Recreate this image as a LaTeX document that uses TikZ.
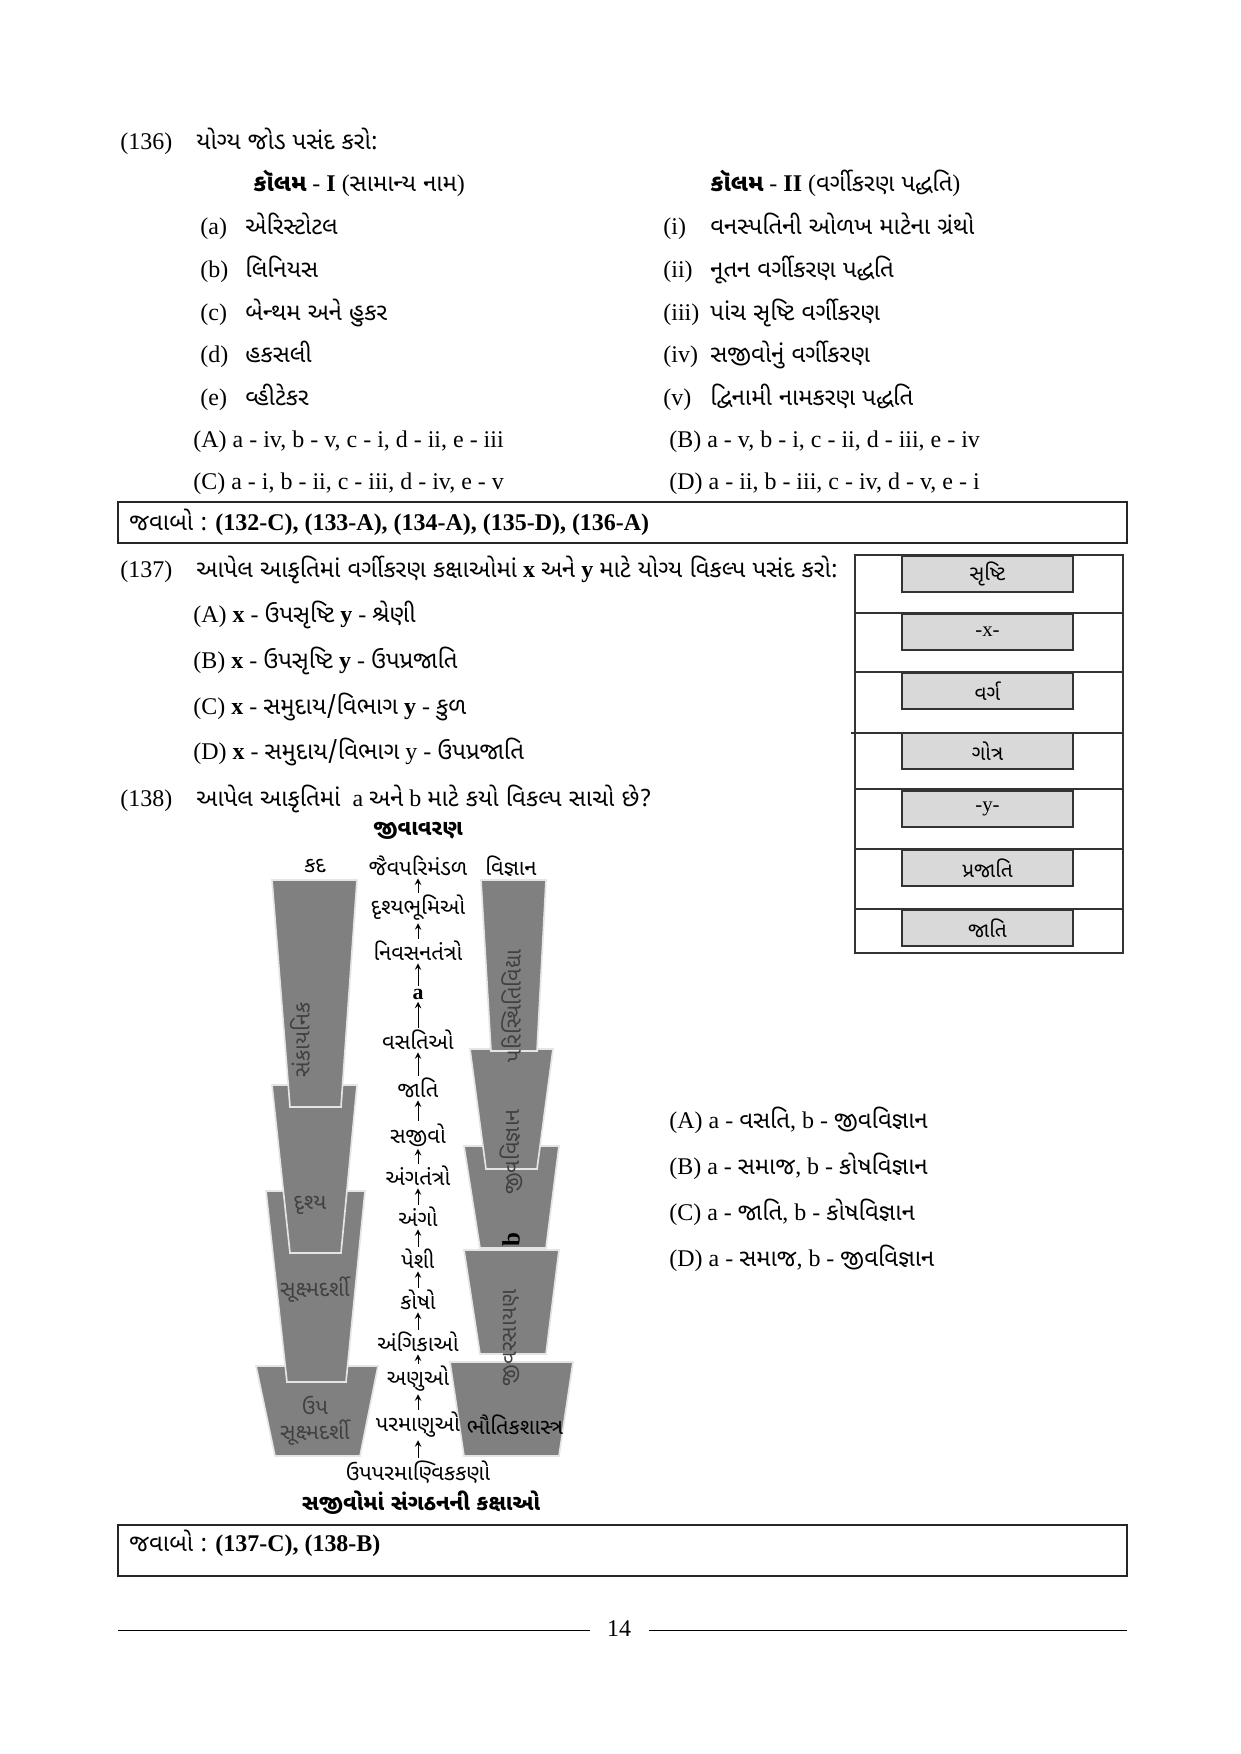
\documentclass[tikz,border=0pt]{standalone}
\usepackage{fontspec}
\setmainfont{Liberation Serif}
\newfontfamily\guj[Script=Gujarati]{Noto Sans Gujarati UI}
\usetikzlibrary{positioning}
\tikzset{
  txt/.style={anchor=west, inner sep=0pt, text height=9pt, text depth=3pt, font=\fontsize{11.5}{14}\selectfont},
  lvl/.style={inner sep=1pt, font=\guj\fontsize{10.5}{12}\selectfont},
  cupfill/.style={fill=black!50, draw=white!90!black, line width=0.8pt},
  cuplbl/.style={inner sep=0pt, text=black!75, font=\guj\fontsize{10.5}{12}\selectfont},
  rankbox/.style={draw=black!80, line width=1pt, fill=black!15, minimum width=82pt, minimum height=17pt, inner sep=0pt, font=\guj\fontsize{10}{12}\selectfont},
  ansbox/.style={draw=black!85, line width=0.8pt}
}
\begin{document}
\begin{tikzpicture}[x=0.48pt, y=-0.48pt]
    \useasboundingbox (0,0) rectangle (1241,1754);
    % question 136
    \node[txt] (q136) at (120,143) {(136)\quad {\guj યોગ્ય જોડ પસંદ કરો:}};
    \node[txt] (col1) at (253,185) {{\guj\bfseries કૉલમ} - \textbf{I} ({\guj સામાન્ય નામ})};
    \node[txt] (col2) at (710,185) {{\guj\bfseries કૉલમ} - \textbf{II} ({\guj વર્ગીકરણ પદ્ધતિ})};
    \foreach \k/\name/\y in {a/એરિસ્ટોટલ/228, b/લિનિયસ/271, c/બેન્થમ અને હુકર/314, d/હકસલી/356, e/વ્હીટેકર/399}{
      \node[txt] (l\k) at (200,\y) {(\k)};
      \node[txt] (n\k) at (245,\y) {\guj\name};
    }
    \foreach \k/\name/\y in {i/વનસ્પતિની ઓળખ માટેના ગ્રંથો/228, ii/નૂતન વર્ગીકરણ પદ્ધતિ/271, iii/પાંચ સૃષ્ટિ વર્ગીકરણ/314, iv/સજીવોનું વર્ગીકરણ/356, v/દ્વિનામી નામકરણ પદ્ધતિ/399}{
      \node[txt] (r\k) at (663,\y) {(\k)};
      \node[txt] (m\k) at (710,\y) {\guj\name};
    }
    \node[txt] (o136A) at (193,441) {(A) a - iv, b - v, c - i, d - ii, e - iii};
    \node[txt] (o136B) at (669,441) {(B) a - v, b - i, c - ii, d - iii, e - iv};
    \node[txt] (o136C) at (193,483) {(C) a - i, b - ii, c - iii, d - iv, e - v};
    \node[txt] (o136D) at (669,483) {(D) a - ii, b - iii, c - iv, d - v, e - i};
    \draw[ansbox] (118,502) rectangle (1127,543);
    \node[txt] (ans1) at (129,524) {{\guj જવાબો :} \textbf{(132-C), (133-A), (134-A), (135-D), (136-A)}};
    % question 137
    \node[txt] (q137) at (120,571) {(137)\quad {\guj આપેલ આકૃતિમાં વર્ગીકરણ કક્ષાઓમાં} \textbf{x} {\guj અને} \textbf{y} {\guj માટે યોગ્ય વિકલ્પ પસંદ કરો:}};
    \node[txt] (o137A) at (193,616) {(A) \textbf{x} - {\guj ઉપસૃષ્ટિ} \textbf{y} - {\guj શ્રેણી}};
    \node[txt] (o137B) at (193,662) {(B) \textbf{x} - {\guj ઉપસૃષ્ટિ} \textbf{y} - {\guj ઉપપ્રજાતિ}};
    \node[txt] (o137C) at (193,708) {(C) \textbf{x} - {\guj સમુદાય/વિભાગ} \textbf{y} - {\guj કુળ}};
    \node[txt] (o137D) at (193,753) {(D) \textbf{x} - {\guj સમુદાય/વિભાગ} y - {\guj ઉપપ્રજાતિ}};
    % rank ladder
    \draw[line width=1pt, black!80] (855,555) rectangle (1123,953);
    \foreach \y in {613,672,789,849,909}{
      \draw[line width=1pt, black!80] (855,\y) -- (1123,\y);
    }
    \draw[line width=1pt, black!80] (851,733) -- (1123,733);
    \foreach \i/\lbl/\y in {1/સૃષ્ટિ/574, 2/{\rmfamily -x-}/632, 3/વર્ગ/691, 4/ગોત્ર/751, 5/{\rmfamily -y-}/809, 6/પ્રજાતિ/868, 7/જાતિ/928}{
      \node[rankbox] (rk\i) at (987.5,\y) {\lbl};
    }
    % question 138
    \node[txt] (q138) at (120,800) {(138)\quad {\guj આપેલ આકૃતિમાં}\enspace a {\guj અને} b {\guj માટે કયો વિકલ્પ સાચો છે?}};
    \node[lvl, font=\guj\bfseries\fontsize{10.5}{12}\selectfont] (biome) at (418,831) {જીવાવરણ};
    % left cups
    \filldraw[cupfill] (256,1366) -- (378,1366) -- (360,1456) -- (275,1456) -- cycle;
    \filldraw[cupfill] (266,1191) -- (365,1191) -- (346,1382) -- (287,1382) -- cycle;
    \filldraw[cupfill] (272,1085) -- (357,1085) -- (341,1253) -- (290,1253) -- cycle;
    \filldraw[cupfill] (272,880) -- (357,880) -- (341,1107) -- (290,1107) -- cycle;
    % right cups
    \filldraw[cupfill] (450,1362) -- (573,1362) -- (559,1456) -- (464,1456) -- cycle;
    \filldraw[cupfill] (464,1250) -- (559,1250) -- (546,1354) -- (480,1354) -- cycle;
    \filldraw[cupfill] (464,1146) -- (559,1146) -- (546,1248) -- (480,1248) -- cycle;
    \filldraw[cupfill] (470,1049) -- (553,1049) -- (537,1169) -- (486,1169) -- cycle;
    \filldraw[cupfill] (481,880) -- (546,880) -- (537,1051) -- (491,1051) -- cycle;
    \node[cuplbl, rotate=90] (macro) at (300,1040) {સંકાયનિક};
    \node[cuplbl] (visible) at (310,1205) {દૃશ્ય};
    \node[cuplbl] (micro) at (315,1290) {સૂક્ષ્મદર્શી};
    \node[cuplbl, align=center] (submicro) at (315,1421) {ઉપ\\સૂક્ષ્મદર્શી};
    \node[cuplbl, rotate=90] (ecology) at (511,1006) {પરિસ્થિતિવિદ્યા};
    \node[cuplbl, rotate=90] (biology) at (511,1152) {જીવવિજ્ઞાન};
    \node[cuplbl, rotate=90, text=black, font=\bfseries\fontsize{12}{13}\selectfont] (bb) at (511,1240) {b};
    \node[cuplbl, rotate=90] (biochem) at (511,1338) {જીવરસાયણ};
    \node[cuplbl, text=black] (physics) at (515,1425) {ભૌતિકશાસ્ત્ર};
    \node[lvl] (size) at (315,866) {કદ};
    \node[lvl] (science) at (511,866) {વિજ્ઞાન};
    % levels
    \foreach \i/\lbl/\y in {1/જૈવપરિમંડળ/866, 2/દૃશ્યભૂમિઓ/908, 3/નિવસનતંત્રો/951, 4/{\rmfamily\bfseries a}/994, 5/વસતિઓ/1040, 6/જાતિ/1088, 7/સજીવો/1135, 8/અંગતંત્રો/1176, 9/અંગો/1217, 10/પેશી/1259, 11/કોષો/1300, 12/અંગિકાઓ/1342, 13/અણુઓ/1379, 14/પરમાણુઓ/1425, 15/ઉપપરમાણ્વિકકણો/1472}{
      \node[lvl] (lv\i) at (418,\y) {\lbl};
    }
    \foreach \i [evaluate=\i as \j using int(\i+1)] in {1,...,14}{
      \draw[->, >=stealth, thin] (lv\j.north) -- (lv\i.south);
    }
    \node[lvl, font=\guj\bfseries\fontsize{10.5}{12}\selectfont] (caption) at (421,1503) {સજીવોમાં સંગઠનની કક્ષાઓ};
    \node[txt] (o138A) at (669,1122) {(A) a - {\guj વસતિ}, b - {\guj જીવવિજ્ઞાન}};
    \node[txt] (o138B) at (669,1168) {(B) a - {\guj સમાજ}, b - {\guj કોષવિજ્ઞાન}};
    \node[txt] (o138C) at (669,1214) {(C) a - {\guj જાતિ}, b - {\guj કોષવિજ્ઞાન}};
    \node[txt] (o138D) at (669,1260) {(D) a - {\guj સમાજ}, b - {\guj જીવવિજ્ઞાન}};
    \draw[ansbox] (118,1525) rectangle (1127,1576);
    \node[txt] (ans2) at (129,1545) {{\guj જવાબો :} \textbf{(137-C), (138-B)}};
    % footer
    \node[txt, anchor=center] (page) at (619,1630) {14};
    \draw[thin] (118,1630) -- (590,1630);
    \draw[thin] (649,1630) -- (1127,1630);
\end{tikzpicture}
\end{document}
